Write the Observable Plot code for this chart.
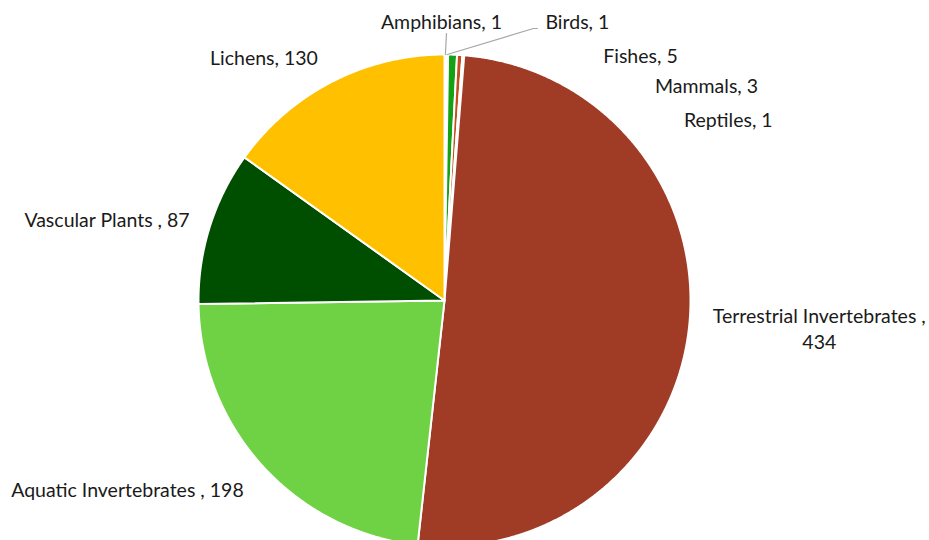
<!DOCTYPE html>
<html>
<head>
<meta charset="utf-8">
<script src="https://cdn.jsdelivr.net/npm/d3@7"></script>
<script src="https://cdn.jsdelivr.net/npm/@observablehq/plot@0.6"></script>
<style>
  html, body { margin: 0; padding: 0; background: #fff; }
  #chart svg { display: block; }
</style>
</head>
<body>
<div id="chart"></div>
<script>
// ---- data ----
const categories = ["Amphibians", "Birds", "Fishes", "Mammals", "Reptiles",
  "Terrestrial Invertebrates", "Aquatic Invertebrates", "Vascular Plants", "Lichens"];
const counts = [1, 1, 5, 3, 1, 434, 198, 87, 130];
const sliceColors = ["#fafafa", "#f5f5f5", "#16a016", "#c0501e", "#f0f0f0",
  "#a03c26", "#6fd245", "#004f00", "#ffc000"];
const labelTexts = ["Amphibians, 1", "Birds, 1", "Fishes, 5", "Mammals, 3", "Reptiles, 1",
  "Terrestrial Invertebrates ,\n434", "Aquatic Invertebrates , 198", "Vascular Plants , 87", "Lichens, 130"];

// ---- layout (pixels) ----
const W = 929, H = 540;
const cx = 444, cy = 300, R = 246, labelGap = 20;
// label anchor and pixel nudges from the radial label point
const labelAnchor = ["middle", "start", "start", "start", "start", "middle", "end", "end", "end"];
const labelNudge = [[-4, -14], [98, -14], [150, 20], [194, 50], [219, 84], [110, 2], [-4, 9], [-1, -2], [-5, -7]];
// leader lines: extra points relative to the label point (pixels)
const leaderPts = {0: [[5, 13]], 1: [[-12, 8], [-8, 8]]};

// ---- geometry in unit-circle coordinates ----
const total = d3.sum(counts);
const slices = [];
const labels = [];
const leaders = [];
let cum = 0;
categories.forEach((name, i) => {
  const a0 = cum / total * 2 * Math.PI;
  cum += counts[i];
  const a1 = cum / total * 2 * Math.PI;
  const n = Math.max(2, Math.ceil((a1 - a0) / (Math.PI / 720)));
  slices.push({name, x: 0, y: 0});
  for (let k = 0; k <= n; k++) {
    const a = a0 + (a1 - a0) * k / n;
    slices.push({name, x: Math.sin(a), y: Math.cos(a)});
  }
  slices.push({name, x: 0, y: 0});
  const am = (a0 + a1) / 2;
  const rl = (R + labelGap) / R;
  const lx = rl * Math.sin(am) + labelNudge[i][0] / R;
  const ly = rl * Math.cos(am) - labelNudge[i][1] / R;
  labels.push({name, text: labelTexts[i], anchor: labelAnchor[i], x: lx, y: ly});
  if (leaderPts[i]) {
    leaders.push({name, x: Math.sin(am), y: Math.cos(am)});
    for (const [dx, dy] of leaderPts[i]) leaders.push({name, x: lx + dx / R, y: ly - dy / R});
  }
});

const font = "Lato, 'Open Sans', sans-serif";
const textOpts = (anchor) => ({
  x: "x", y: "y", text: "text", textAnchor: anchor, fontSize: 19.5,
  fontFamily: font, fill: "#1a1a1a", lineHeight: 1.3
});

const chart = Plot.plot({
  width: W, height: H,
  margin: 0,
  x: {domain: [-cx / R, (W - cx) / R], axis: null},
  y: {domain: [-(H - cy) / R, cy / R], axis: null},
  color: {domain: categories, range: sliceColors},
  marks: [
    Plot.line(slices, {x: "x", y: "y", z: "name", fill: "name", stroke: "white",
      strokeWidth: 2, strokeLinejoin: "round", curve: "linear"}),
    Plot.line(leaders, {x: "x", y: "y", z: "name", stroke: "#a6a6a6", strokeWidth: 1.2}),
    Plot.text(labels.filter(d => d.anchor === "start"), textOpts("start")),
    Plot.text(labels.filter(d => d.anchor === "end"), textOpts("end")),
    Plot.text(labels.filter(d => d.anchor === "middle"), textOpts("middle"))
  ]
});
document.getElementById("chart").appendChild(chart);
</script>
</body>
</html>
